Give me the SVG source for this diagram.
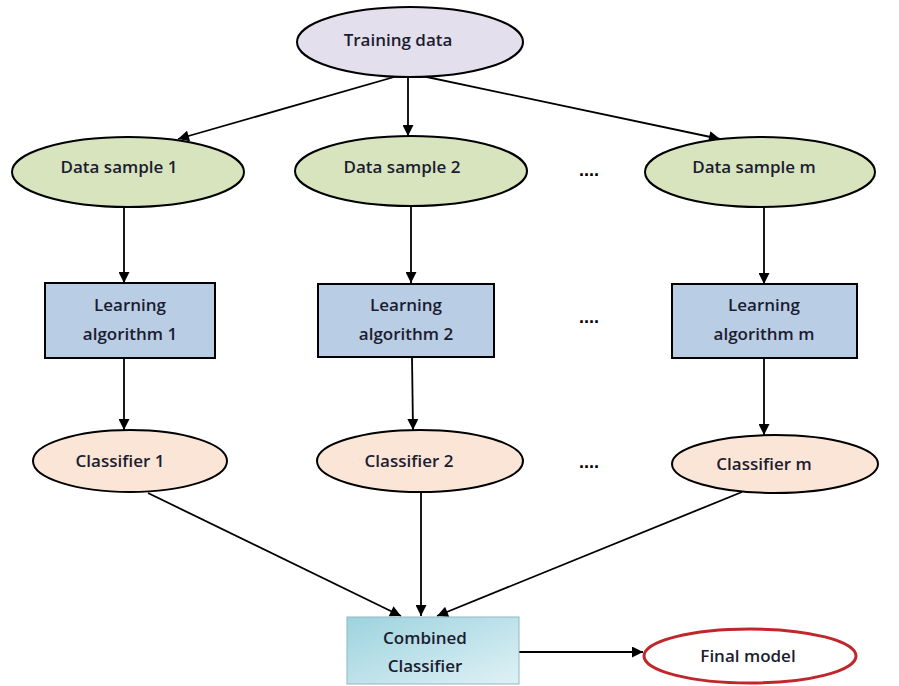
<svg xmlns="http://www.w3.org/2000/svg" width="899" height="686" viewBox="0 0 899 686">
<defs>
<marker id="ah" viewBox="0 0 10 10" refX="10" refY="5" markerWidth="12" markerHeight="11" markerUnits="userSpaceOnUse" orient="auto">
<path d="M0,0 L10,5 L0,10 z" fill="#000"/>
</marker>
<linearGradient id="cg" x1="0" y1="0" x2="1" y2="1">
<stop offset="0" stop-color="#9dd3df"/>
<stop offset="1" stop-color="#dff1f5"/>
</linearGradient>
<style>
.t{font-family:"Open Sans","Liberation Sans",sans-serif;font-size:17px;font-weight:600;fill:#1c1c30;text-anchor:middle}
.e{stroke:#000;stroke-width:2}
.ds{fill:#d7e4bd}
.cl{fill:#fbe5d6}
.la{fill:#b9cde5;stroke:#000;stroke-width:2}
.c line{stroke:#000;stroke-width:1.8;marker-end:url(#ah)}
.dots{font-family:"Liberation Sans",sans-serif;font-size:18px;font-weight:bold;fill:#000;text-anchor:middle}
</style>
</defs>
<rect width="899" height="686" fill="#fff"/>
<g class="c">
<line x1="408" y1="73" x2="178" y2="139"/>
<line x1="408" y1="73" x2="408" y2="136"/>
<line x1="408" y1="73" x2="720" y2="139"/>
<line x1="124" y1="207" x2="124" y2="283"/>
<line x1="411" y1="206" x2="411" y2="283"/>
<line x1="764" y1="207" x2="764" y2="284"/>
<line x1="124" y1="358" x2="124" y2="430"/>
<line x1="412" y1="357" x2="413" y2="430"/>
<line x1="764" y1="358" x2="764" y2="435"/>
<line x1="148" y1="493" x2="401" y2="616"/>
<line x1="421" y1="492" x2="421" y2="616"/>
<line x1="742" y1="492" x2="437" y2="616"/>
<line x1="519" y1="652" x2="643" y2="652"/>
</g>
<g id="training"><ellipse class="e" cx="410" cy="42" rx="113" ry="35" fill="#e4dfec"/><text class="t" x="398" y="46">Training data</text></g>
<g id="ds1"><ellipse class="e ds" cx="128" cy="172" rx="116" ry="35"/><text class="t" x="119" y="173">Data sample 1</text></g>
<g id="ds2"><ellipse class="e ds" cx="411" cy="171" rx="116" ry="35"/><text class="t" x="402" y="173">Data sample 2</text></g>
<g id="dsm"><ellipse class="e ds" cx="760" cy="172" rx="115" ry="35"/><text class="t" x="754" y="173">Data sample m</text></g>
<g id="la1"><rect class="la" x="45" y="283" width="170" height="75"/><text class="t" x="130" y="311">Learning</text><text class="t" x="130" y="340">algorithm 1</text></g>
<g id="la2"><rect class="la" x="318" y="284" width="176" height="73"/><text class="t" x="406" y="311">Learning</text><text class="t" x="406" y="340">algorithm 2</text></g>
<g id="lam"><rect class="la" x="672" y="284" width="185" height="74"/><text class="t" x="764" y="311">Learning</text><text class="t" x="764" y="340">algorithm m</text></g>
<g id="c1"><ellipse class="e cl" cx="130" cy="461" rx="97" ry="31"/><text class="t" x="120" y="467">Classifier 1</text></g>
<g id="c2"><ellipse class="e cl" cx="420" cy="461" rx="103" ry="31"/><text class="t" x="409" y="467">Classifier 2</text></g>
<g id="cm"><ellipse class="e cl" cx="775" cy="464" rx="103" ry="29"/><text class="t" x="764" y="470">Classifier m</text></g>
<g id="dots"><text class="dots" x="589" y="176">....</text><text class="dots" x="589" y="323">....</text><text class="dots" x="589" y="468">....</text></g>
<g id="combined"><rect x="347" y="617" width="172" height="67" fill="url(#cg)" stroke="#8fb8c4" stroke-width="1"/><text class="t" x="425" y="644">Combined</text><text class="t" x="425" y="672">Classifier</text></g>
<g id="final"><ellipse cx="750" cy="656" rx="106" ry="27" fill="#fff" stroke="#c0272d" stroke-width="3"/><text class="t" x="748" y="662">Final model</text></g>
</svg>
